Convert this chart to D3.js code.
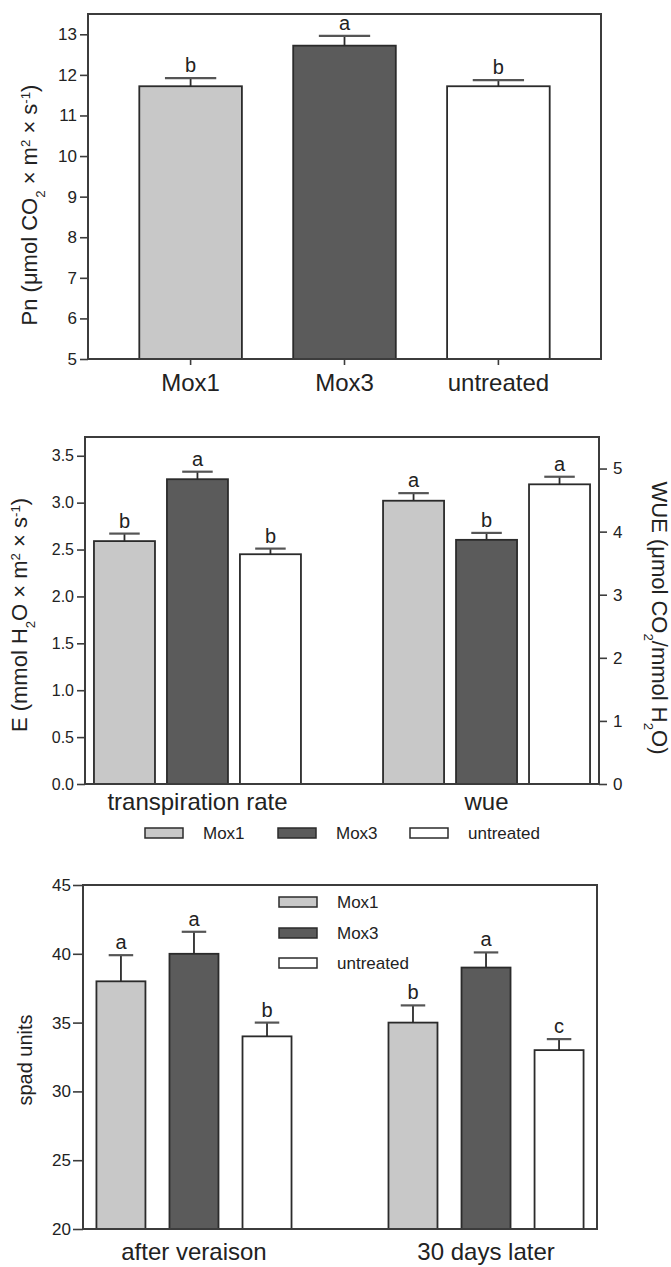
<!DOCTYPE html>
<html>
<head>
<meta charset="utf-8">
<script src="https://cdn.jsdelivr.net/npm/d3@7"></script>
<style>
  body { margin: 0; background: #fff; }
  svg { font-family: "Liberation Sans", Arial, sans-serif; }
</style>
</head>
<body>
<script>
// data
const treatments = ['Mox1', 'Mox3', 'untreated'];

const pnValues = [11.72, 12.72, 11.72];
const pnErrors = [0.2, 0.24, 0.15];
const pnLetters = ['b', 'a', 'b'];
const pnTicks = [5, 6, 7, 8, 9, 10, 11, 12, 13];

const midGroups = ['transpiration rate', 'wue'];
const eValues = [2.59, 3.25, 2.45];
const eErrors = [0.08, 0.08, 0.06];
const eLetters = ['b', 'a', 'b'];
const wueValues = [4.49, 3.87, 4.75];
const wueErrors = [0.12, 0.11, 0.12];
const wueLetters = ['a', 'b', 'a'];
const eTicks = [0, 0.5, 1.0, 1.5, 2.0, 2.5, 3.0, 3.5];
const wueTicks = [0, 1, 2, 3, 4, 5];

const spadGroups = ['after veraison', '30 days later'];
const spadAfter = [38, 40, 34];
const spadAfterErr = [1.9, 1.6, 1.0];
const spadAfterLetters = ['a', 'a', 'b'];
const spadLater = [35, 39, 33];
const spadLaterErr = [1.25, 1.1, 0.8];
const spadLaterLetters = ['b', 'a', 'c'];
const spadTicks = [20, 25, 30, 35, 40, 45];

const fills = { 'Mox1': '#c8c8c8', 'Mox3': '#5b5b5b', 'untreated': '#ffffff' };
const ink = '#2b2b2b';

const svg = d3.select('body').append('svg')
  .attr('width', 671)
  .attr('height', 1267);

function frame(x0, x1, y0, y1) {
  svg.append('rect')
    .attr('x', x0).attr('y', y0)
    .attr('width', x1 - x0).attr('height', y1 - y0)
    .attr('fill', 'none')
    .attr('stroke', '#3c3c3c')
    .attr('stroke-width', 2);
}

// one bar with its error bar and letter
function bar(x, w, yScale, v, err, letter, fill, base) {
  const yTop = yScale(v);
  const yCap = yScale(v + err);
  svg.append('rect')
    .attr('x', x).attr('y', yTop)
    .attr('width', w).attr('height', base - yTop)
    .attr('fill', fill)
    .attr('stroke', ink)
    .attr('stroke-width', 1.8);
  const cx = x + w / 2;
  svg.append('line')
    .attr('x1', cx).attr('x2', cx)
    .attr('y1', yTop).attr('y2', yCap)
    .attr('stroke', ink).attr('stroke-width', 1.8);
  svg.append('line')
    .attr('x1', cx - w / 4).attr('x2', cx + w / 4)
    .attr('y1', yCap).attr('y2', yCap)
    .attr('stroke', '#555').attr('stroke-width', 2.2);
  svg.append('text')
    .attr('x', cx).attr('y', yCap - 6)
    .attr('text-anchor', 'middle')
    .style('font-size', '20px')
    .style('fill', '#222')
    .text(letter);
}

// rotated label with sub/superscripts
function richLabel(parts, x, y, angle, size) {
  const t = svg.append('text')
    .attr('transform', `translate(${x},${y}) rotate(${angle})`)
    .attr('text-anchor', 'middle')
    .style('font-size', size + 'px')
    .style('fill', '#222');
  parts.forEach(p => {
    const s = t.append('tspan').text(p[0]);
    if (p[1] === 'sup') s.attr('baseline-shift', 'super').style('font-size', (size * 0.6) + 'px');
    if (p[1] === 'sub') s.attr('baseline-shift', 'sub').style('font-size', (size * 0.6) + 'px');
  });
}

function styleAxis(g, size) {
  g.select('.domain').remove();
  g.selectAll('line').attr('stroke', '#3c3c3c').attr('stroke-width', 1.6);
  g.selectAll('text').style('font-size', size + 'px').style('fill', '#222')
    .style('font-family', '"Liberation Sans", Arial, sans-serif');
}

function legendItem(x, y, key, fontSize) {
  svg.append('rect')
    .attr('x', x).attr('y', y - 5)
    .attr('width', 38).attr('height', 10)
    .attr('fill', fills[key])
    .attr('stroke', ink).attr('stroke-width', 1.5);
  svg.append('text')
    .attr('x', x + 58).attr('y', y + 6)
    .style('font-size', fontSize + 'px')
    .style('fill', '#222')
    .text(key);
}

// ---------- panel 1: Pn ----------
{
  const xScale = d3.scaleBand().domain(treatments).range([88, 601]).padding(1 / 3);
  const yScale = d3.scaleLinear().domain([5, 13.5]).range([359, 14]);

  treatments.forEach((t, i) => {
    bar(xScale(t), xScale.bandwidth(), yScale, pnValues[i], pnErrors[i], pnLetters[i], fills[t], yScale(5));
  });
  frame(88, 601, 14, 359);

  const yAxis = svg.append('g')
    .attr('transform', 'translate(88,0)')
    .call(d3.axisLeft(yScale).tickValues(pnTicks).tickSize(8).tickPadding(3));
  styleAxis(yAxis, 17);

  const xAxis = svg.append('g')
    .attr('transform', 'translate(0,359)')
    .call(d3.axisBottom(xScale).tickSize(6).tickPadding(9));
  styleAxis(xAxis, 24);

  richLabel([['Pn  (μmol CO'], ['2', 'sub'], [' × m'], ['2', 'sup'], [' × s'], ['-1', 'sup'], [')']], 37, 205, -90, 22);
}

// ---------- panel 2: E and WUE ----------
{
  const top = 437, base = 784;
  const groupScale = d3.scaleBand().domain(midGroups).range([85, 599])
    .paddingInner(0.284).paddingOuter(0.031);
  const inner = d3.scaleBand().domain(treatments).range([0, groupScale.bandwidth()])
    .paddingInner(0.164).paddingOuter(0);
  const eScale = d3.scaleLinear().domain([0, 3.7]).range([base, top]);
  const wScale = d3.scaleLinear().domain([0, 5.5]).range([base, top]);

  treatments.forEach((t, i) => {
    bar(groupScale(midGroups[0]) + inner(t), inner.bandwidth(), eScale, eValues[i], eErrors[i], eLetters[i], fills[t], base);
    bar(groupScale(midGroups[1]) + inner(t), inner.bandwidth(), wScale, wueValues[i], wueErrors[i], wueLetters[i], fills[t], base);
  });
  frame(85, 599, top, base);

  const yLeft = svg.append('g')
    .attr('transform', 'translate(85,0)')
    .call(d3.axisLeft(eScale).tickValues(eTicks).tickFormat(d3.format('.1f')).tickSize(8).tickPadding(3));
  styleAxis(yLeft, 16);

  const yRight = svg.append('g')
    .attr('transform', 'translate(599,0)')
    .call(d3.axisRight(wScale).tickValues(wueTicks).tickFormat(d3.format('d')).tickSize(8).tickPadding(6));
  styleAxis(yRight, 17);

  const xAxis = svg.append('g')
    .attr('transform', `translate(0,${base})`)
    .call(d3.axisBottom(groupScale).tickSize(0).tickPadding(9));
  styleAxis(xAxis, 24);

  richLabel([['E  (mmol H'], ['2', 'sub'], ['O × m'], ['2', 'sup'], [' × s'], ['-1', 'sup'], [')']], 27, 615, -90, 22);
  richLabel([['WUE (μmol CO'], ['2', 'sub'], ['/mmol H'], ['2', 'sub'], ['O)']], 652, 618, 90, 22);

  // legend row
  const legendX = d3.scaleOrdinal().domain(treatments).range([145, 278, 410]);
  treatments.forEach(t => legendItem(legendX(t), 833, t, 17));
}

// ---------- panel 3: spad ----------
{
  const top = 885, base = 1229;
  const groupScale = d3.scaleBand().domain(spadGroups).range([83, 597])
    .paddingInner(0.332).paddingOuter(0.046);
  const inner = d3.scaleBand().domain(treatments).range([0, groupScale.bandwidth()])
    .paddingInner(0.329).paddingOuter(0);
  const yScale = d3.scaleLinear().domain([20, 45]).range([base, top]);

  treatments.forEach((t, i) => {
    bar(groupScale(spadGroups[0]) + inner(t), inner.bandwidth(), yScale, spadAfter[i], spadAfterErr[i], spadAfterLetters[i], fills[t], base);
    bar(groupScale(spadGroups[1]) + inner(t), inner.bandwidth(), yScale, spadLater[i], spadLaterErr[i], spadLaterLetters[i], fills[t], base);
  });
  frame(83, 597, top, base);

  const yAxis = svg.append('g')
    .attr('transform', 'translate(83,0)')
    .call(d3.axisLeft(yScale).tickValues(spadTicks).tickSize(10).tickPadding(2));
  styleAxis(yAxis, 17);

  const xAxis = svg.append('g')
    .attr('transform', `translate(0,${base})`)
    .call(d3.axisBottom(groupScale).tickSize(0).tickPadding(14));
  styleAxis(xAxis, 24);

  richLabel([['spad units']], 32, 1060, -90, 20);

  // inset legend
  const legendY = d3.scaleOrdinal().domain(treatments).range([902, 933, 963]);
  treatments.forEach(t => legendItem(279, legendY(t), t, 17));
}
</script>
</body>
</html>
